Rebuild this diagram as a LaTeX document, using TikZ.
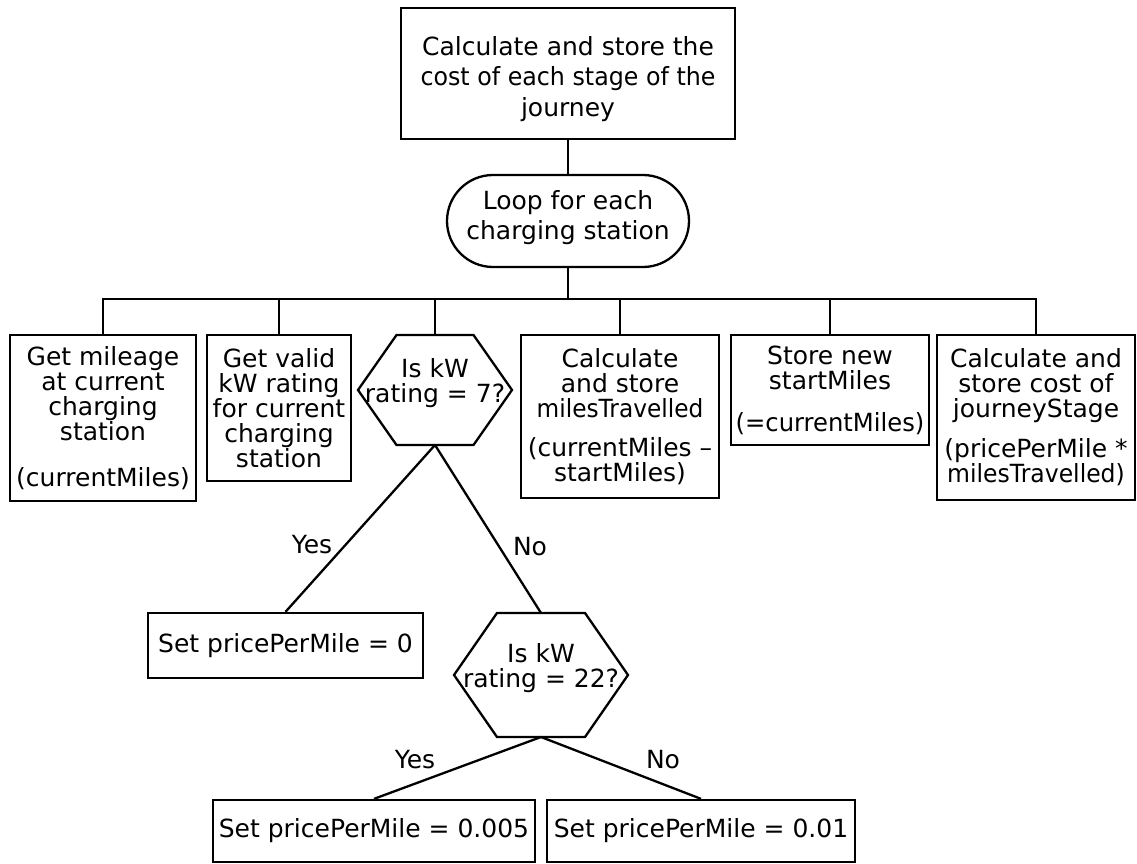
\documentclass[tikz,border=0pt]{standalone}
\usepackage{fontspec}
\setmainfont{DejaVu Sans}
\usetikzlibrary{calc}
\newcommand\squeezeline[2]{\scalebox{#1}[1]{#2}}
\begin{document}
\begin{tikzpicture}[x=1pt,y=-1pt,
  every node/.style={font=\fontsize{25pt}{25pt}\selectfont, align=center, inner sep=0pt},
  wide/.style={font=\fontsize{25pt}{30.5pt}\selectfont},
  box/.style={draw, line width=2.3pt},
  conn/.style={line width=2.3pt},
  lbl/.style={font=\fontsize{25pt}{25pt}\selectfont}]
\fill[white] (0,0) rectangle (1137,864);
\useasboundingbox (0,0) rectangle (1137,864);

% top level
\node[box, wide, minimum width=334pt, minimum height=131pt] (top) at (568,73.5)
  {\rule{0pt}{30pt}Calculate and store the\\\squeezeline{0.95}{cost of each stage of the}\\journey};
\node[box, wide, rounded corners=46pt, minimum width=242pt, minimum height=92pt] (loop) at (568,221)
  {Loop for each\\charging station\rule[-12pt]{0pt}{0pt}};

% row of steps
\node[box, minimum width=186pt, minimum height=166pt] (b1) at (103,418)
  {Get mileage\\at current\\charging\\station\\[21pt](currentMiles)};
\node[box, minimum width=144pt, minimum height=146pt] (b2) at (279,408)
  {Get valid\\kW rating\\for current\\charging\\station};
\node (h1) at (435,383) {Is kW\\rating = 7?};
\node[box, minimum width=198pt, minimum height=163pt] (b4) at (620,416.5)
  {Calculate\\and store\\\squeezeline{0.93}{milesTravelled}\\[14pt](currentMiles –\\startMiles)};
\node[box, minimum width=198pt, minimum height=110pt] (b5) at (830,390)
  {Store new\\startMiles\\[17pt]\squeezeline{0.97}{(=currentMiles)}};
\node[box, minimum width=198pt, minimum height=165pt] (b6) at (1036,417.5)
  {Calculate and\\store cost of\\journeyStage\\[15pt](pricePerMile *\\\squeezeline{0.94}{milesTravelled)}};

% hexagon 1 outline
\draw[box, line join=miter] ($(h1)+(-77,7)$) -- ($(h1)+(-38.5,-48)$) -- ($(h1)+(38.5,-48)$) -- ($(h1)+(77,7)$)
  -- ($(h1)+(38.5,62)$) -- ($(h1)+(-38.5,62)$) -- cycle;
\coordinate (h1top) at ($(h1)+(0,-48)$);
\coordinate (h1bot) at ($(h1)+(0,62)$);

% lower part
\node[box, minimum width=275pt, minimum height=65pt] (zero) at (285.5,645.5) {Set pricePerMile = 0};
\node (h2) at (541,668) {Is kW\\rating = 22?};
\draw[box, line join=miter] ($(h2)+(-87,7)$) -- ($(h2)+(-44,-55)$) -- ($(h2)+(44,-55)$) -- ($(h2)+(87,7)$)
  -- ($(h2)+(44,69)$) -- ($(h2)+(-44,69)$) -- cycle;
\coordinate (h2top) at ($(h2)+(0,-55)$);
\coordinate (h2bot) at ($(h2)+(0,69)$);
\node[box, minimum width=322pt, minimum height=62pt] (b7) at (374,831) {Set pricePerMile = 0.005};
\node[box, minimum width=308pt, minimum height=62pt] (b8) at (701,831) {Set pricePerMile = 0.01};

% connectors
\coordinate (bus) at (0,299);
\draw[conn] (top) -- (loop);
\draw[conn] (loop.south) -- (loop.south |- bus);
\draw[conn] (b1.north) -- (b1.north |- bus) -- (b6.north |- bus) -- (b6.north);
\draw[conn] (b2.north) -- (b2.north |- bus);
\draw[conn] (h1top) -- (h1top |- bus);
\draw[conn] (b4.north) -- (b4.north |- bus);
\draw[conn] (b5.north) -- (b5.north |- bus);

\draw[conn] (h1bot) -- (zero.north);
\draw[conn] (h1bot) -- (h2top);
\draw[conn] (h2bot) -- (b7.north);
\draw[conn] (h2bot) -- (b8.north);

% labels
\node[lbl] (yes1) at (312,545) {Yes};
\node[lbl] (no1) at (530,547) {No};
\node[lbl] (yes2) at (415,760) {Yes};
\node[lbl] (no2) at (663,760) {No};
\end{tikzpicture}
\end{document}
